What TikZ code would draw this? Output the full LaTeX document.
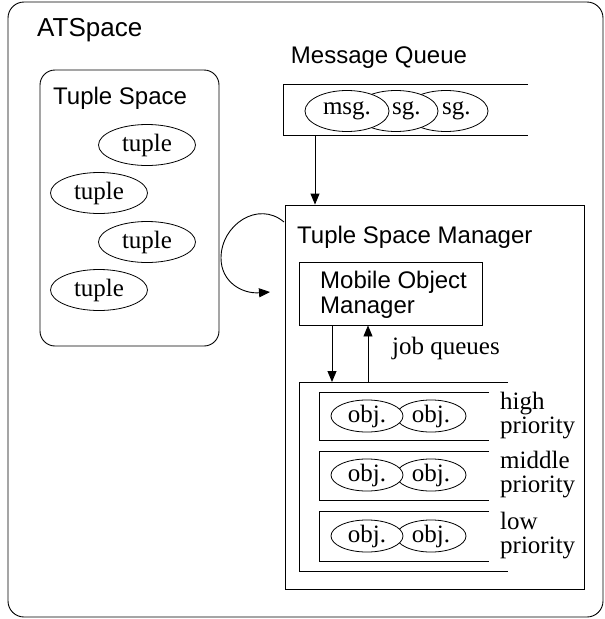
\documentclass[tikz,border=0pt]{standalone}
\usepackage{fontspec}
\setmainfont{Liberation Serif}
\setsansfont{Liberation Sans}
\usetikzlibrary{shapes.geometric,arrows.meta}
\tikzset{
  sanslbl/.style={font=\sffamily\fontsize{24}{25}\selectfont, inner sep=0pt},
  seriflbl/.style={font=\rmfamily\fontsize{25}{24}\selectfont, inner sep=0pt},
  ell/.style={ellipse, draw, fill=white, inner sep=0pt, font=\rmfamily\fontsize{25}{25}\selectfont, line width=0.8pt},
  box/.style={draw, line width=0.9pt},
  conn/.style={line width=0.9pt, -{Triangle[length=11pt,width=9pt]}},
  msgtxt/.style={font=\rmfamily\fontsize{25}{25}\selectfont, inner sep=0pt, anchor=west},
}
\begin{document}
\begin{tikzpicture}[x=1pt,y=-1pt]
\useasboundingbox (0,0) rectangle (605,619);
% outer ATSpace
\draw[box, rounded corners=16pt] (8,2) rectangle (603,617);
\node[sanslbl, font=\sffamily\fontsize{26}{26}\selectfont, anchor=west] (atspace) at (37,30) {ATSpace};
% Tuple space
\draw[box, rounded corners=15pt] (40,70) rectangle (219,346);
\node[sanslbl, anchor=west] (tslbl) at (53,98) {Tuple Space};
\node[ell, minimum width=97pt, minimum height=41pt] (t1) at (147,145) {tuple};
\node[ell, minimum width=97pt, minimum height=41pt] (t2) at (99,193) {tuple};
\node[ell, minimum width=97pt, minimum height=41pt] (t3) at (147,242) {tuple};
\node[ell, minimum width=97pt, minimum height=41pt] (t4) at (99,290) {tuple};
% Message queue
\node[sanslbl] (mqlbl) at (379,58) {Message Queue};
\draw[box] (528,84) -| (283,135) -- (528,135);
\coordinate (mqout) at (315,135);
\node[ell, minimum width=84pt, minimum height=41pt] (m3) at (446,111) {};
\node[ell, minimum width=84pt, minimum height=41pt] (m2) at (396,111) {};
\node[ell, minimum width=84pt, minimum height=41pt] (m1) at (347,111) {msg.};
\node[msgtxt] (m2t) at (392,111) {sg.};
\node[msgtxt] (m3t) at (442,111) {sg.};
% Tuple Space Manager
\node[box, minimum width=299pt, minimum height=384pt, inner sep=0pt] (tsm) at (434.5,397) {};
\node[sanslbl, anchor=west] (tsmlbl) at (297,237) {Tuple Space Manager};
\draw[conn] (mqout) -- (mqout |- tsm.north);
% loop arrow
\coordinate (lpstart) at (284,222);
\coordinate (lpend) at (270,292);
\draw[conn] (lpstart) .. controls (258,200) and (221,225) .. (221,258) .. controls (221,282) and (242,294) .. (lpend);
% Mobile object manager
\node[box, minimum width=183pt, minimum height=63pt, inner sep=0pt] (mom) at (390.5,293.5) {};
\node[sanslbl, anchor=west, align=left] (momt) at (320,294.5) {Mobile Object\\Manager};
% job queues
\draw[box] (508,382) -| (299,571) -- (508,571);
\coordinate (jqtop1) at (332,382);
\coordinate (jqtop2) at (368,382);
\draw[conn] (mom.south -| jqtop1) -- (jqtop1);
\draw[conn] (jqtop2) -- (mom.south -| jqtop2);
\node[seriflbl] (jql) at (446,348) {job queues};
% inner queues
\foreach \t/\b/\c/\l [count=\i] in {392/440/416/{high\\priority}, 451/500/475/{middle\\priority}, 511/561/536/{low\\priority}}{
  \draw[box] (489,\t) -| (319,\b) -- (489,\b);
  \node[ell, minimum width=70pt, minimum height=32pt] (ob\i) at (431,\c) {obj.};
  \node[ell, minimum width=72pt, minimum height=32pt] (oa\i) at (367,\c) {obj.};
  \node[seriflbl, anchor=west, align=left] (pl\i) at (500,\c) {\l};
}
\end{tikzpicture}
\end{document}
